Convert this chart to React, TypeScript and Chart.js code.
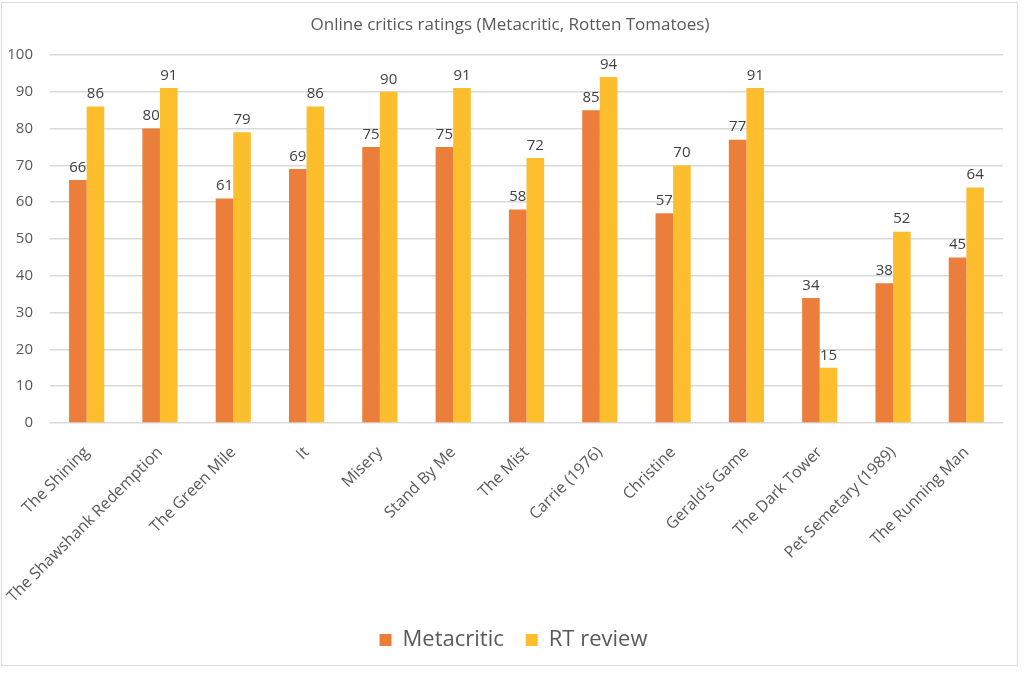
import React, { useEffect, useRef } from 'react';
import { Chart, registerables } from 'chart.js';

Chart.register(...registerables);

// Dados do gráfico
const movies = [
  'The Shining',
  'The Shawshank Redemption',
  'The Green Mile',
  'It',
  'Misery',
  'Stand By Me',
  'The Mist',
  'Carrie (1976)',
  'Christine',
  "Gerald's Game",
  'The Dark Tower',
  'Pet Semetary (1989)',
  'The Running Man',
];
const metacritic = [66, 80, 61, 69, 75, 75, 58, 85, 57, 77, 34, 38, 45];
const rtReview = [86, 91, 79, 86, 90, 91, 72, 94, 70, 91, 15, 52, 64];
const yTicks = [0, 10, 20, 30, 40, 50, 60, 70, 80, 90, 100];

const FONT = "'Open Sans', sans-serif";
const TEXT = '#595959';

// Desenha os valores acima das barras e o título
const labelsPlugin = {
  id: 'valueLabels',
  afterLayout(chart: any) {
    // desloca a legenda um pouco para a direita, como no original
    if (chart.legend) {
      chart.legend.left += 12;
      chart.legend.right += 12;
    }
  },
  afterDatasetsDraw(chart: any) {
    const ctx = chart.ctx;
    ctx.save();
    ctx.font = `15px ${FONT}`;
    ctx.fillStyle = '#404040';
    ctx.textAlign = 'center';
    ctx.textBaseline = 'bottom';
    chart.data.datasets.forEach((ds: any, i: number) => {
      const meta = chart.getDatasetMeta(i);
      meta.data.forEach((el: any, j: number) => {
        ctx.fillText(String(ds.data[j]), el.x, el.y - 5);
      });
    });
    ctx.font = `17px ${FONT}`;
    ctx.fillStyle = TEXT;
    ctx.textBaseline = 'middle';
    ctx.fillText('Online critics ratings (Metacritic, Rotten Tomatoes)', 510, 25);
    ctx.restore();
  },
};

export default function App() {
  const canvasRef = useRef<HTMLCanvasElement | null>(null);

  useEffect(() => {
    if (!canvasRef.current) return;
    const chart = new Chart(canvasRef.current, {
      type: 'bar',
      data: {
        labels: movies,
        datasets: [
          { label: 'Metacritic', data: metacritic, backgroundColor: '#EC7E3B' },
          { label: 'RT review', data: rtReview, backgroundColor: '#FCBE2D' },
        ],
      },
      options: {
        animation: false,
        responsive: false,
        layout: { padding: { top: 55, right: 21, bottom: 12, left: 0 } },
        datasets: { bar: { categoryPercentage: 0.48, barPercentage: 1 } },
        plugins: {
          legend: {
            position: 'bottom',
            labels: {
              boxWidth: 12,
              boxHeight: 12,
              padding: 22,
              color: TEXT,
              font: { family: FONT, size: 22 },
            },
          },
          tooltip: { enabled: false },
        },
        scales: {
          x: {
            grid: { display: false },
            border: { display: false },
            ticks: {
              minRotation: 45,
              maxRotation: 45,
              padding: 12,
              color: TEXT,
              font: { family: FONT, size: 16 },
              autoSkip: false,
            },
            afterFit: (scale: any) => {
              scale.height = 184;
            },
          },
          y: {
            min: 0,
            max: 100,
            afterBuildTicks: (scale: any) => {
              scale.ticks = yTicks.map((v) => ({ value: v }));
            },
            grid: { color: '#d9d9d9', lineWidth: 1.5, drawTicks: false },
            border: { display: false },
            ticks: {
              padding: 17,
              color: TEXT,
              font: { family: FONT, size: 15 },
            },
            afterFit: (scale: any) => {
              scale.width = 50;
            },
          },
        },
      },
      plugins: [labelsPlugin],
    });
    return () => chart.destroy();
  }, []);

  return (
    <div style={{ position: 'fixed', left: 0, top: 0, width: 1024, height: 673, background: '#fff' }}>
      <canvas ref={canvasRef} width={1024} height={673} style={{ display: 'block' }} />
      <div
        style={{
          position: 'absolute',
          left: 1,
          top: 2,
          width: 1017,
          height: 664,
          border: '1.5px solid #d9d9d9',
          boxSizing: 'border-box',
          pointerEvents: 'none',
        }}
      />
    </div>
  );
}
